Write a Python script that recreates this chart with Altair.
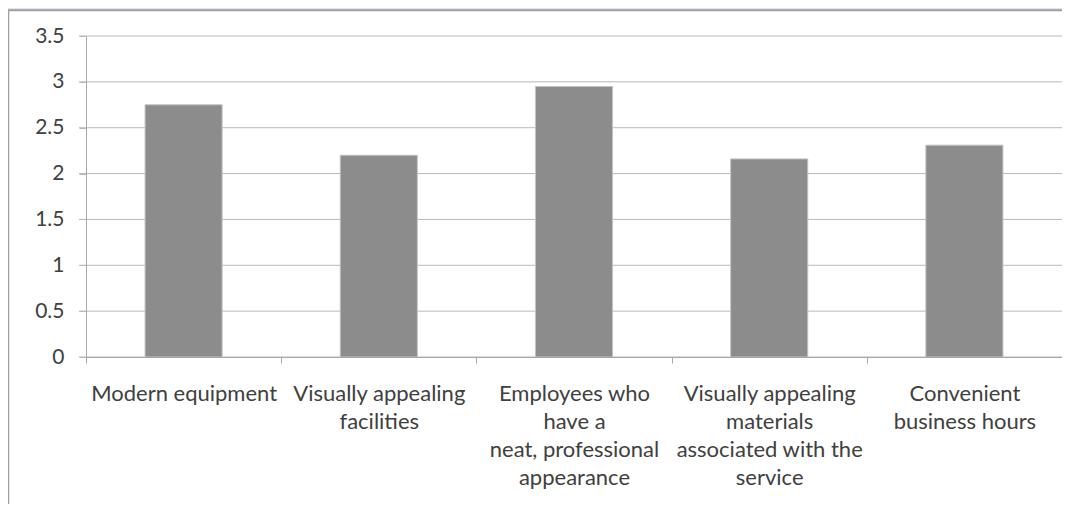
import altair as alt
import pandas as pd

# Data
label_lines = [
    ["Modern equipment"],
    ["Visually appealing", "facilities"],
    ["Employees who", "have a", "neat, professional", "appearance"],
    ["Visually appealing", "materials", "associated with the", "service"],
    ["Convenient", "business hours"],
]
values = [2.75, 2.2, 2.95, 2.16, 2.31]
y_ticks = [0, 0.5, 1, 1.5, 2, 2.5, 3, 3.5]

categories = ["|".join(lines) for lines in label_lines]
df = pd.DataFrame({"category": categories, "value": values})
grid_df = pd.DataFrame({"value": y_ticks})

FONT = "Lato"
TEXT = "#404040"
GRID = "#b9b9b9"
AXIS = "#a8a8a8"

y_scale = alt.Scale(domain=[0, 3.5], nice=False, zero=True)
y_axis = alt.Axis(
    values=y_ticks,
    format=".1~f",
    tickSize=7,
    tickColor=GRID,
    domainColor=AXIS,
    labelFont=FONT,
    labelFontSize=21,
    labelColor=TEXT,
    labelPadding=15,
    grid=False,
    zindex=1,
)

frame = alt.Chart(df).mark_rect(
    fill="white", stroke="#9f9f9f", strokeWidth=1.5
).encode(
    x=alt.value(-77.5), x2=alt.value(1200),
    y=alt.value(-25.5), y2=alt.value(800),
)

grid = alt.Chart(grid_df).mark_rule(color=GRID, strokeWidth=1).encode(
    y=alt.Y("value:Q", scale=y_scale, axis=y_axis, title=None),
    x=alt.value(-7),
    x2=alt.value(976),
)

bars = alt.Chart(df).mark_bar(
    width=alt.RelativeBandSize(0.395),
    color="#8c8c8c",
    stroke="#c4c4c4",
    strokeWidth=1,
).encode(
    x=alt.X(
        "category:N",
        sort=None,
        title=None,
        scale=alt.Scale(paddingInner=0, paddingOuter=0),
        axis=alt.Axis(
            labelExpr="split(datum.label, '|')",
            labelAngle=0,
            tickBand="extent",
            tickSize=6,
            tickColor=AXIS,
            domainColor=AXIS,
            labelFont=FONT,
            labelFontSize=22,
            labelColor=TEXT,
            labelLineHeight=28.3,
            labelPadding=20,
            labelLimit=400,
            labelOverlap=False,
            labelBound=False,
            grid=False,
            zindex=1,
        ),
    ),
    y=alt.Y("value:Q", title=None, scale=y_scale, axis=y_axis),
)

chart = alt.layer(frame, grid, bars).properties(
    width=976,
    height=321,
    autosize=alt.AutoSizeParams(type="none"),
    padding={"left": 78, "top": 28, "right": 0, "bottom": 147},
    background="#dce6f2",
).configure_view(stroke=None)

chart.save("out.html", embed_options={"renderer": "svg", "actions": False})
